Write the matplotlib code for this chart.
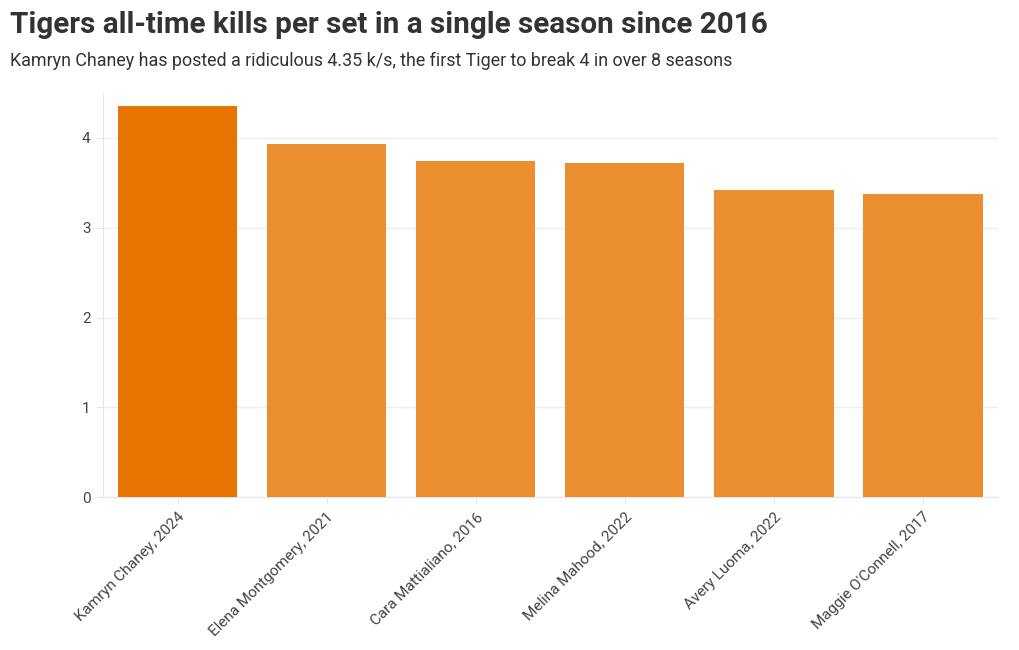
import matplotlib
matplotlib.use("Agg")
import matplotlib.pyplot as plt

players = ["Kamryn Chaney, 2024", "Elena Montgomery, 2021", "Cara Mattialiano, 2016",
           "Melina Mahood, 2022", "Avery Luoma, 2022", "Maggie O'Connell, 2017"]
kills_per_set = [4.35, 3.93, 3.74, 3.72, 3.42, 3.38]
y_ticks = [0, 1, 2, 3, 4]

plt.rcParams['font.family'] = ['Roboto', 'DejaVu Sans']

fig = plt.figure(figsize=(10.2, 6.5), dpi=100)
ax = fig.add_axes([0.101, 0.235, 0.877, 0.622])

colors = ['#E87500'] + ['#EA8E30'] * (len(players) - 1)
x = range(len(players))
ax.bar(x, kills_per_set, width=0.8, color=colors, zorder=3)

ax.set_xlim(-0.5, len(players) - 0.5)
ax.set_ylim(0, 4.5)
ax.set_yticks(y_ticks)
ax.set_yticklabels([str(t) for t in y_ticks], fontsize=11, color='#444444')
ax.set_xticks(list(x))
ax.set_xticklabels(players, rotation=45, ha='right', rotation_mode='anchor',
                   fontsize=11, color='#444444')
ax.grid(axis='y', color='#eeeeee', linewidth=1, zorder=0)
for s in ['top', 'right']:
    ax.spines[s].set_visible(False)
for s in ['left', 'bottom']:
    ax.spines[s].set_color('#e6e6e6')
ax.tick_params(axis='both', length=5, color='#e6e6e6', pad=4)

fig.text(0.0098, 0.962, "Tigers all-time kills per set in a single season since 2016",
         fontsize=21.3, fontweight='bold', color='#333333', va='center', ha='left')
fig.text(0.0098, 0.906, "Kamryn Chaney has posted a ridiculous 4.35 k/s, the first Tiger to break 4 in over 8 seasons",
         fontsize=12.9, color='#333333', va='center', ha='left')

fig.savefig("out.png", dpi=100, facecolor='white')
